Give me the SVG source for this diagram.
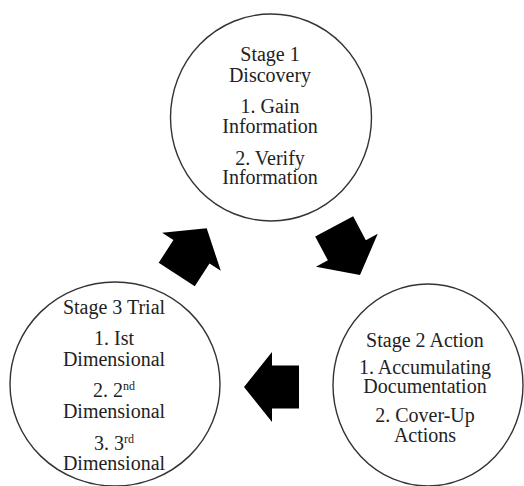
<svg xmlns="http://www.w3.org/2000/svg" width="524" height="486" viewBox="0 0 524 486">
<style>
.node{fill:#fff;stroke:#333;stroke-width:1.4}
.t{font-family:"Liberation Serif","Times New Roman",serif;font-size:20px;fill:#222;text-anchor:middle}
.sup{font-size:12px}
.arr{fill:#000}
</style>
<defs>
<polygon id="blk" points="0,0 -28,-35 -28,-21.5 -55,-21.5 -55,21.5 -28,21.5 -28,35"/>
</defs>
<rect width="524" height="486" fill="#fff"/>
<g id="stage1">
<ellipse class="node" cx="271" cy="117.5" rx="100.5" ry="103.5"/>
<text class="t" x="270" y="61">Stage 1</text>
<text class="t" x="270" y="82">Discovery</text>
<text class="t" x="270" y="113">1. Gain</text>
<text class="t" x="270" y="133">Information</text>
<text class="t" x="270" y="165">2. Verify</text>
<text class="t" x="270" y="184">Information</text>
</g>
<g id="stage2">
<ellipse class="node" cx="428" cy="385" rx="95" ry="101"/>
<text class="t" x="425" y="347">Stage 2 Action</text>
<text class="t" x="425" y="374">1. Accumulating</text>
<text class="t" x="425" y="393">Documentation</text>
<text class="t" x="425" y="422">2. Cover-Up</text>
<text class="t" x="425" y="442">Actions</text>
</g>
<g id="stage3">
<ellipse class="node" cx="115" cy="384" rx="105" ry="102"/>
<text class="t" x="114" y="314">Stage 3 Trial</text>
<text class="t" x="114" y="345">1. Ist</text>
<text class="t" x="114" y="366">Dimensional</text>
<text class="t" x="114" y="397">2. 2<tspan class="sup" dy="-7">nd</tspan></text>
<text class="t" x="114" y="418">Dimensional</text>
<text class="t" x="114" y="450">3. 3<tspan class="sup" dy="-7">rd</tspan></text>
<text class="t" x="114" y="470">Dimensional</text>
</g>
<g id="connectors">
<use class="arr" href="#blk" transform="translate(360,275) rotate(62)"/>
<use class="arr" href="#blk" transform="translate(244,387) rotate(180)"/>
<use class="arr" href="#blk" transform="translate(206.7,228.3) rotate(-57)"/>
</g>
</svg>
